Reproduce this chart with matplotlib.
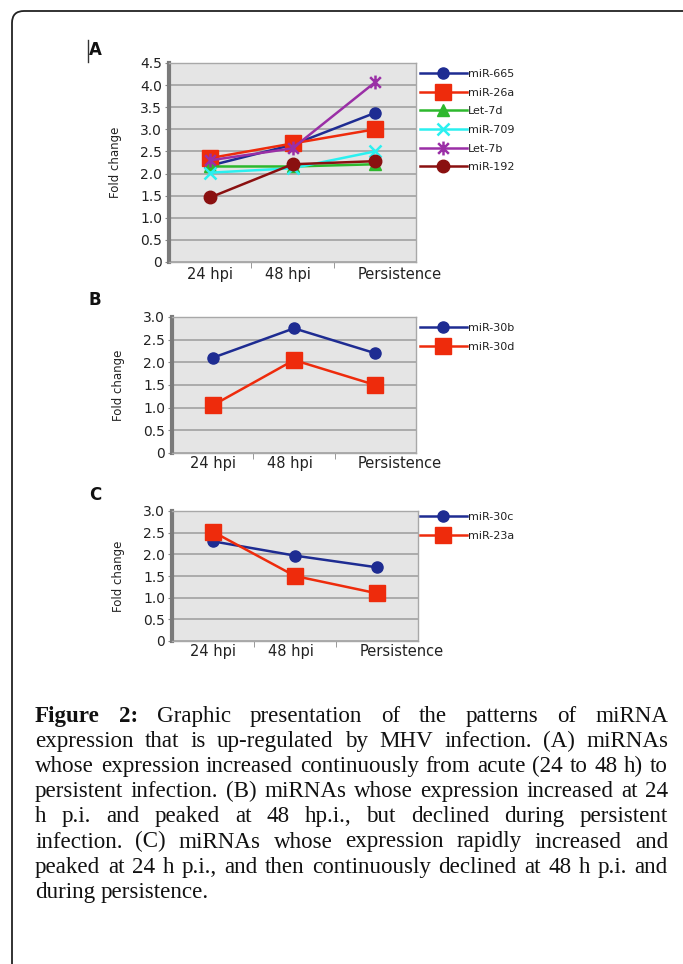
"""
Figure 2: miRNA fold change over MHV infection (three panels + caption).
"""
import matplotlib
matplotlib.use("Agg")
import matplotlib.pyplot as plt
import matplotlib.transforms as mtransforms
from matplotlib.lines import Line2D
from matplotlib.path import Path
from matplotlib.patches import FancyBboxPatch
import numpy as np

# --- data ---
timepoints = ["24 hpi", "48 hpi", "Persistence"]

# panel A
a_labels = ["miR-665", "miR-26a", "Let-7d", "miR-709", "Let-7b", "miR-192"]
mir_665 = [2.18, 2.65, 3.37]
mir_26a = [2.35, 2.68, 3.00]
let_7d = [2.16, 2.16, 2.21]
mir_709 = [2.02, 2.12, 2.50]
let_7b = [2.30, 2.57, 4.06]
mir_192 = [1.46, 2.21, 2.28]

# panel B
b_labels = ["miR-30b", "miR-30d"]
mir_30b = [2.10, 2.75, 2.20]
mir_30d = [1.05, 2.05, 1.50]

# panel C
c_labels = ["miR-30c", "miR-23a"]
mir_30c = [2.30, 1.97, 1.70]
mir_23a = [2.52, 1.50, 1.10]

caption_lines = [
    "Figure 2: Graphic presentation of the patterns of miRNA",
    "expression that is up-regulated by MHV infection. (A) miRNAs",
    "whose expression increased continuously from acute (24 to 48 h) to",
    "persistent infection. (B) miRNAs whose expression increased at 24",
    "h p.i. and peaked at 48 hp.i., but declined during persistent",
    "infection. (C) miRNAs whose expression rapidly increased and",
    "peaked at 24 h p.i., and then continuously declined at 48 h p.i. and",
    "during persistence.",
]

W, H = 683, 964
NAVY, RED = "#1E2C92", "#EE2B0C"

# Excel-style "star" marker: an x with a vertical bar through it
STAR = Path([(-1, -1), (1, 1), (-1, 1), (1, -1), (0, -1.3), (0, 1.3)],
            [Path.MOVETO, Path.LINETO, Path.MOVETO, Path.LINETO,
             Path.MOVETO, Path.LINETO])

fig = plt.figure(figsize=(W / 100, H / 100), dpi=100)
fig.patch.set_facecolor("white")


def px_axes(left, top, right, bottom):
    return fig.add_axes([left / W, 1 - bottom / H, (right - left) / W,
                         (bottom - top) / H])


def style_axes(ax, ymax, label_shift):
    ax.set_facecolor("#E5E5E5")
    ax.set_xlim(-0.5, 2.5)
    ax.set_ylim(0, ymax)
    yt = np.arange(0, ymax + 0.01, 0.5)
    ax.set_yticks(yt)
    ax.set_yticklabels(["0" if v == 0 else f"{v:.1f}" for v in yt],
                       fontsize=10, color="#222222")
    ax.tick_params(axis="y", length=3, color="#888888", pad=2)
    ax.yaxis.grid(True, color="#A6A6A6", linewidth=1.3)
    ax.set_axisbelow(True)

    # category labels drawn by hand, Excel puts them a bit off-centre
    ax.set_xticks([])
    ax.set_xticks([0.5, 1.5], minor=True)
    ax.tick_params(axis="x", which="minor", length=4, color="#888888")
    trans = mtransforms.blended_transform_factory(ax.transData, ax.transAxes)
    for i, name in enumerate(timepoints):
        ax.text(i + label_shift[i], -0.025, name, transform=trans,
                ha="center", va="top", fontsize=10.5, color="#222222")

    for side in ["top", "right", "bottom"]:
        ax.spines[side].set_color("#A8A8A8")
        ax.spines[side].set_linewidth(1)
    ax.spines["left"].set_color("#7A7A7A")
    ax.spines["left"].set_linewidth(3)
    ax.set_ylabel("Fold change", fontsize=8.5, color="#222222", labelpad=13)


def add_legend(ax, x, y):
    ax.legend(loc="upper left", bbox_to_anchor=(x / W, 1 - y / H),
              bbox_transform=fig.transFigure, frameon=False, fontsize=8,
              handlelength=4.2, handletextpad=0.1, labelspacing=0.78,
              borderpad=0, borderaxespad=0, labelcolor="#222222")


x = np.arange(len(timepoints))
shift = [0.0, -0.05, 0.3]

# --- Panel A ---
ax_a = px_axes(169, 63, 416, 262)
series_a = [mir_665, mir_26a, let_7d, mir_709, let_7b, mir_192]
styles_a = [
    dict(color=NAVY, marker="o", ms=8),
    dict(color=RED, marker="s", ms=12),
    dict(color="#2DB82D", marker="^", ms=8),
    dict(color="#2AF0F0", marker="x", ms=8, mew=1.8),
    dict(color="#9A2FA6", marker=STAR, ms=10, mew=1.8),
    dict(color="#8A1010", marker="o", ms=9),
]
for vals, lab, st in zip(series_a, a_labels, styles_a):
    ax_a.plot(x, vals, lw=1.8, label=lab, **st)
style_axes(ax_a, 4.5, shift)
add_legend(ax_a, 420, 69)

# --- Panel B ---
ax_b = px_axes(172, 317, 416, 453)
ax_b.plot(x, mir_30b, color=NAVY, marker="o", ms=8, lw=1.8, label=b_labels[0])
ax_b.plot(x, mir_30d, color=RED, marker="s", ms=11, lw=1.8, label=b_labels[1])
style_axes(ax_b, 3.0, shift)
add_legend(ax_b, 420, 323)

# --- Panel C ---
ax_c = px_axes(172, 511, 418, 641)
ax_c.plot(x, mir_30c, color=NAVY, marker="o", ms=8, lw=1.8, label=c_labels[0])
ax_c.plot(x, mir_23a, color=RED, marker="s", ms=11, lw=1.8, label=c_labels[1])
style_axes(ax_c, 3.0, shift)
add_legend(ax_c, 420, 512)

# --- Panel letters ---
for letter, ly in zip(["A", "B", "C"], [50, 300, 495]):
    fig.text(89 / W, 1 - ly / H, letter, fontsize=12, fontweight="bold",
             ha="left", va="center", color="#111111")
fig.add_artist(Line2D([88 / W, 88 / W], [1 - 40 / H, 1 - 62 / H],
                      color="#333333", lw=1, transform=fig.transFigure))

# --- Outer rounded frame ---
frame = FancyBboxPatch((12, -40), 720, 953 + 40,
                       boxstyle="round,pad=0,rounding_size=12",
                       transform=mtransforms.IdentityTransform(),
                       fill=False, edgecolor="#222222", lw=1.3)
fig.add_artist(frame)

# --- Caption, justified line by line ---
serif = ["Liberation Serif", "DejaVu Serif"]
x0, x1 = 35, 668
base0, dy = 722, 25.1
renderer = fig.canvas.get_renderer()

probe = fig.text(0, 0, caption_lines[2], fontsize=10, family=serif)
natural = probe.get_window_extent(renderer).width
probe.remove()
cap_size = 10 * (x1 - x0) / natural * 0.985

for k, line in enumerate(caption_lines):
    words = line.split(" ")
    yb = 1 - (base0 + k * dy) / H
    texts = []
    for j, w in enumerate(words):
        bold = k == 0 and j < 2
        texts.append(fig.text(0, yb, w, fontsize=cap_size, family=serif,
                              fontweight="bold" if bold else "normal",
                              va="baseline", ha="left", color="#111111"))
    widths = [t.get_window_extent(renderer).width for t in texts]
    if k == len(caption_lines) - 1:
        gap = 0.25 * cap_size * 100 / 72
    else:
        gap = (x1 - x0 - sum(widths)) / (len(words) - 1)
    xp = x0
    for t, w in zip(texts, widths):
        t.set_x(xp / W)
        xp += w + gap

fig.savefig("out.png", dpi=100, facecolor="white")
plt.close(fig)
